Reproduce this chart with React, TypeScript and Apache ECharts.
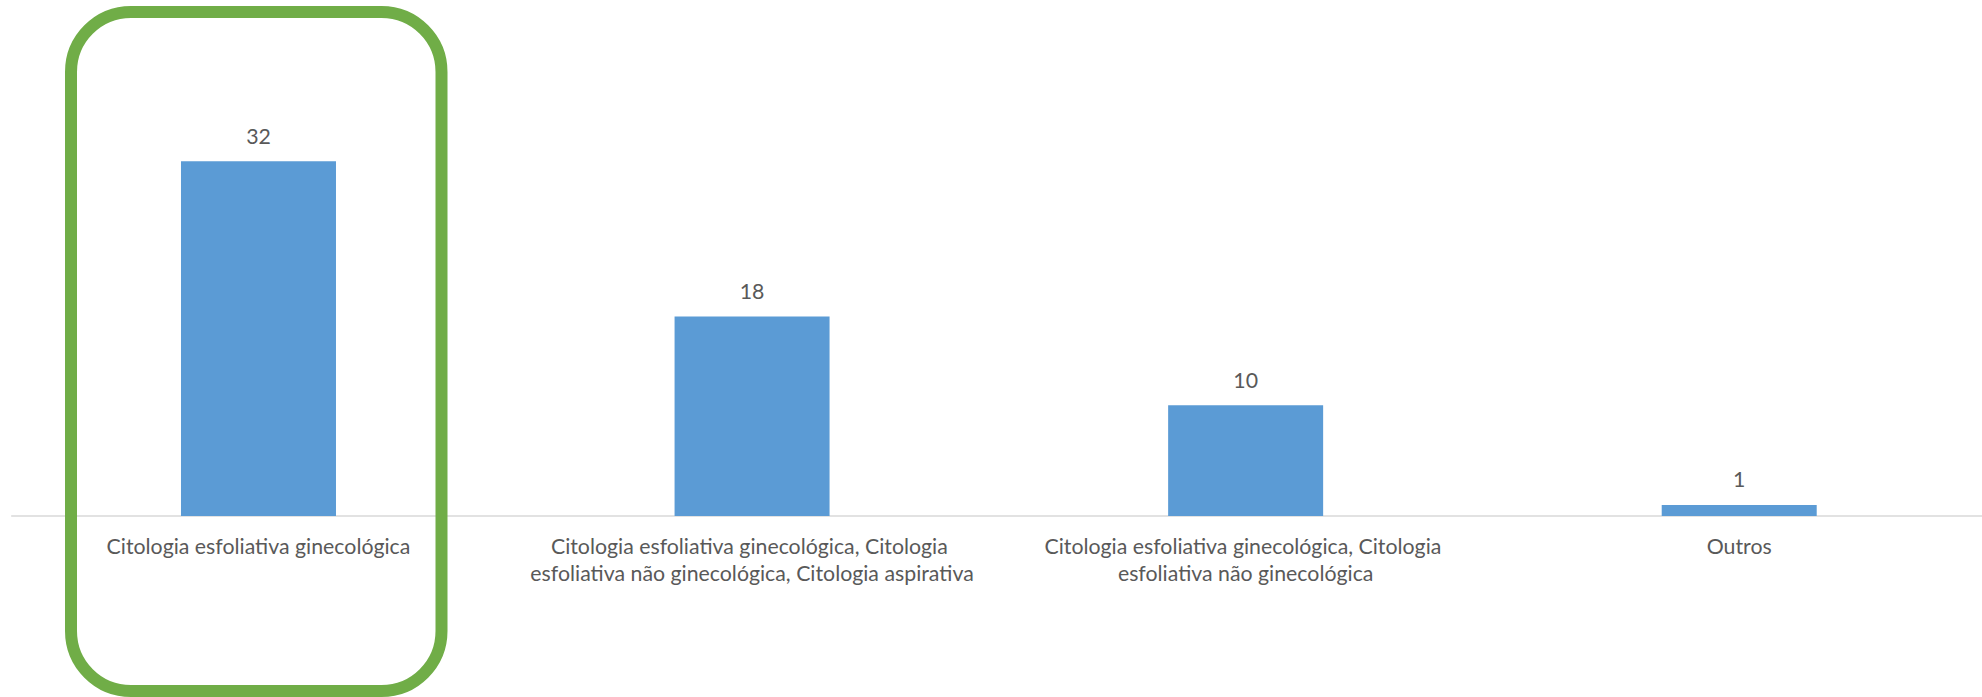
import React, { useEffect, useRef } from "react";
import * as echarts from "echarts";

const categories = [
  "Citologia esfoliativa ginecológica",
  "Citologia esfoliativa ginecológica, Citologia esfoliativa não ginecológica, Citologia aspirativa",
  "Citologia esfoliativa ginecológica, Citologia esfoliativa não ginecológica",
  "Outros",
];
const values = [32, 18, 10, 1];

const FONT = "Lato";

export default function App() {
  const ref = useRef<HTMLDivElement>(null);
  useEffect(() => {
    if (!ref.current) return;
    const chart = echarts.init(ref.current, null, { renderer: "svg" });
    chart.setOption({
      animation: false,
      backgroundColor: "#ffffff",
      grid: { left: 11.7, right: 0, top: 128, bottom: 181, containLabel: false },
      xAxis: {
        type: "category",
        data: categories,
        axisLine: { show: true, lineStyle: { color: "#D9D9D9", width: 1.5 } },
        axisTick: { show: false },
        axisLabel: {
          interval: 0,
          color: "#595959",
          fontFamily: FONT,
          fontSize: 21.3,
          lineHeight: 27,
          margin: 16.5,
          width: 475,
          overflow: "break",
        },
      },
      yAxis: {
        type: "value",
        min: 0,
        max: 35,
        show: false,
        splitLine: { show: false },
      },
      series: [
        {
          type: "bar",
          data: values,
          barWidth: 155,
          itemStyle: { color: "#5B9BD5" },
          label: {
            show: true,
            position: "top",
            distance: 15,
            color: "#595959",
            fontFamily: FONT,
            fontSize: 21.3,
          },
        },
      ],
      graphic: [
        {
          type: "rect",
          z: 100,
          shape: { x: 71, y: 12, width: 370.5, height: 679, r: 60 },
          style: { fill: "none", stroke: "#70AD47", lineWidth: 12 },
        },
      ],
    });
    return () => chart.dispose();
  }, []);
  return (
    <div
      style={{
        position: "fixed",
        left: 0,
        top: 0,
        width: 1982,
        height: 697,
        overflow: "hidden",
        background: "#ffffff",
      }}
    >
      <div ref={ref} style={{ width: 1986.4, height: 697 }} />
    </div>
  );
}
